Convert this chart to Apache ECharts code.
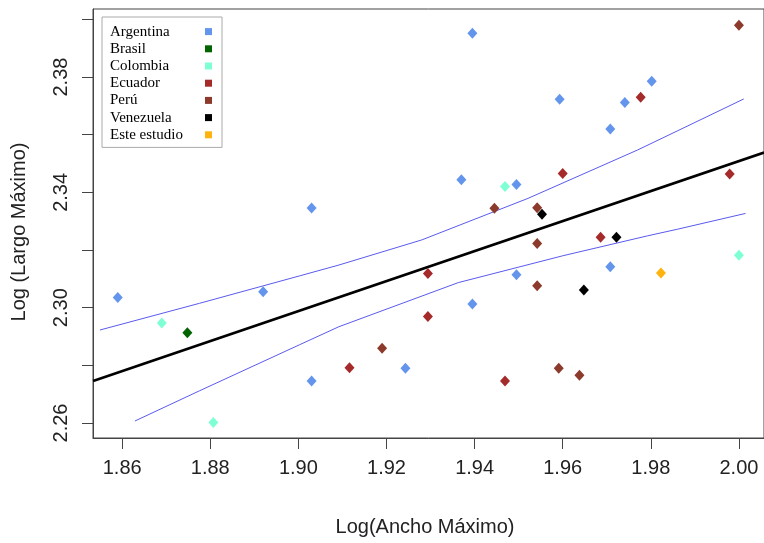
<!DOCTYPE html>
<html>
<head>
<meta charset="utf-8">
<script src="https://cdn.jsdelivr.net/npm/echarts@6/dist/echarts.min.js"></script>
<style>
html,body{margin:0;padding:0;background:#fff;}
#chart{width:764px;height:543px;}
</style>
</head>
<body>
<div id="chart"></div>
<script>
// ---- Data ----
const countries = ['Argentina','Brasil','Colombia','Ecuador','Perú','Venezuela','Este estudio'];
const colors = ['#6495ED','#006400','#7FFFD4','#A52A2A','#8B3A2C','#000000','#FFB30F'];

const argentina = [[1.859,2.3035],[1.892,2.3055],[1.903,2.3346],[1.903,2.2746],[1.9243,2.2790],[1.937,2.3444],[1.9395,2.3952],[1.9395,2.3013],[1.9495,2.3427],[1.9495,2.3114],[1.9593,2.3723],[1.9708,2.3620],[1.9708,2.3142],[1.9741,2.3712],[1.9802,2.3785]];
const brasil = [[1.8748,2.2913]];
const colombia = [[1.869,2.2947],[1.8807,2.2602],[1.9469,2.3420],[2.0,2.3182]];
const ecuador = [[1.9116,2.2792],[1.9294,2.3119],[1.9294,2.2969],[1.9469,2.2746],[1.960,2.3465],[1.9686,2.3244],[1.9777,2.3730],[1.9979,2.3464]];
const peru = [[1.9190,2.2859],[1.9445,2.3345],[1.9542,2.3347],[1.9542,2.3223],[1.9542,2.3076],[1.9591,2.2790],[1.9638,2.2766],[2.0,2.3980]];
const venezuela = [[1.9553,2.3324],[1.9722,2.3244],[1.9648,2.3061]];
const esteEstudio = [[1.9823,2.3120]];

const fitLine = [[1.8534,2.2746],[2.0057,2.3538]];
const upperBand = [[1.85496,2.29226],[1.87756,2.30152],[1.9002,2.3110],[1.9092,2.3148],[1.9280,2.3235],[1.9521,2.3379],[1.9770,2.3547],[1.9860,2.3613],[2.0011,2.3724]];
const lowerBand = [[1.8629,2.2607],[1.8776,2.2712],[1.9002,2.2871],[1.9092,2.2934],[1.9363,2.3087],[1.9600,2.3180],[1.9792,2.3249],[1.9860,2.3272],[2.0015,2.3327]];

const xTicks = [1.86,1.88,1.90,1.92,1.94,1.96,1.98,2.00];
const yTicks = [2.26,2.28,2.30,2.32,2.34,2.36,2.38,2.40];
const yLabels = [2.26,2.30,2.34,2.38];
const xTitle = 'Log(Ancho Máximo)';
const yTitle = 'Log (Largo Máximo)';

const pointSets = [argentina,brasil,colombia,ecuador,peru,venezuela,esteEstudio];

// ---- Chart ----
const chart = echarts.init(document.getElementById('chart'), null, {renderer:'canvas'});
const axisFont = 'Liberation Sans, Arial, sans-serif';

const series = [
  {type:'line', data:upperBand, symbol:'none', smooth:false, silent:true,
   lineStyle:{color:'#5A5AEE', width:1}, z:2},
  {type:'line', data:lowerBand, symbol:'none', smooth:false, silent:true,
   lineStyle:{color:'#5A5AEE', width:1}, z:2},
  {type:'line', data:fitLine, symbol:'none', silent:true,
   lineStyle:{color:'#000', width:2.6}, z:3}
];
countries.forEach((c,i)=>{
  series.push({
    name:c, type:'scatter', data:pointSets[i], symbol:'diamond', symbolSize:[10,11],
    itemStyle:{color:colors[i], opacity:1}, z:5
  });
});

chart.setOption({
  animation:false,
  backgroundColor:'#ffffff',
  grid:{left:93, top:9, right:-3, bottom:105, show:true, borderColor:'#444', borderWidth:1, backgroundColor:'transparent'},
  xAxis:{
    type:'value', min:1.85338, max:2.00569,
    axisLine:{show:true, lineStyle:{color:'#444', width:1}},
    axisTick:{show:true, length:11, inside:false, customValues:xTicks, lineStyle:{color:'#444'}},
    axisLabel:{show:true, customValues:xTicks, margin:20, fontSize:20, fontFamily:axisFont, color:'#222',
      formatter:v=>Number(v).toFixed(2)},
    splitLine:{show:false}
  },
  yAxis:{
    type:'value', min:2.2548, max:2.4036,
    axisLine:{show:true, lineStyle:{color:'#444', width:1}},
    axisTick:{show:true, length:11, inside:false, customValues:yTicks, lineStyle:{color:'#444'}},
    axisLabel:{show:true, customValues:yLabels, rotate:90, margin:22, fontSize:20, fontFamily:axisFont, color:'#222',
      formatter:v=>Number(v).toFixed(2)},
    splitLine:{show:false}
  },
  legend:{
    show:true, orient:'vertical', left:102, top:17,
    data:countries, icon:'rect', itemWidth:7, itemHeight:7, itemGap:0, align:'right',
    padding:[6,10,4,8],
    borderColor:'#aaa', borderWidth:1, backgroundColor:'#fff',
    selectedMode:false,
    formatter:name=>'{a|'+name+'}',
    textStyle:{fontFamily:'Liberation Serif, serif', fontSize:15, color:'#000', lineHeight:17.2,
      rich:{a:{fontFamily:'Liberation Serif, serif', fontSize:15, color:'#000', width:90, align:'left', lineHeight:17.2}}}
  },
  graphic:[
    {type:'text', x:425, y:527, silent:true,
     style:{text:xTitle, font:'20px '+axisFont, fill:'#222', textAlign:'center', textVerticalAlign:'middle'}},
    {type:'text', x:19, y:232, rotation:Math.PI/2, silent:true,
     style:{text:yTitle, font:'20px '+axisFont, fill:'#222', textAlign:'center', textVerticalAlign:'middle'}}
  ],
  series:series
});
</script>
</body>
</html>
